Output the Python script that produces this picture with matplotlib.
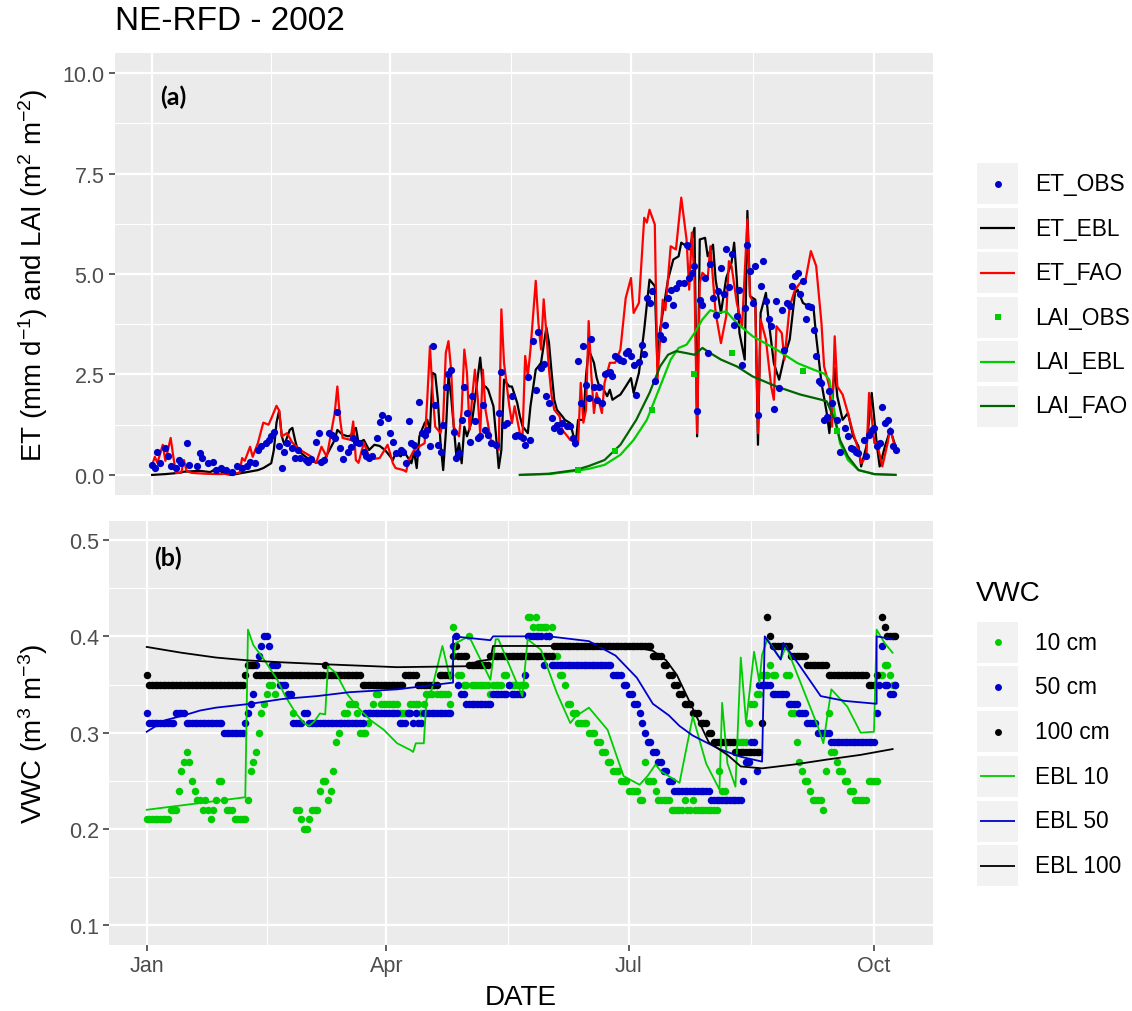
import numpy as np
import matplotlib
matplotlib.use("Agg")
import matplotlib.pyplot as plt
import matplotlib.dates as mdates
from matplotlib.patches import Rectangle

plt.rcParams["font.family"] = ["Liberation Sans", "DejaVu Sans"]
plt.rcParams["mathtext.default"] = "regular"

START = np.datetime64("2002-01-01")
N_DAYS = 282  # Jan 1 .. Oct 9

# ---- panel (a): (day of year - 1, value) ----
et_obs = [(0,0.25),(1,0.17),(2,0.58),(3,0.29),(5,0.67),(6,0.46),(7,0.21),(9,0.17),(10,0.37),(11,0.29),
          (13,0.79),(14,0.25),(17,0.21),(18,0.54),(19,0.42),(21,0.29),(23,0.33),(24,0.13),(26,0.17),(28,0.12),
          (30,0.08),(32,0.21),(34,0.17),(36,0.21),(37,0.33),(39,0.29),(40,0.62),(41,0.71),(43,0.79),(44,0.87),
          (45,0.96),(46,1.08),(48,0.71),(49,0.17),(50,0.58),(51,0.79),(53,0.67),(54,0.42),(55,0.62),(56,0.42),
          (58,0.37),(59,0.33),(60,0.4),(62,0.83),(63,1.04),(64,0.33),(65,0.37),(67,1.04),(68,1.0),(69,0.92),
          (70,1.56),(71,0.67),(72,0.4),(74,0.58),(75,0.7),(76,0.92),(77,0.83),(78,0.8),(80,0.58),(81,0.46),
          (82,0.42),(83,0.46),(85,0.92),(86,1.31),(87,1.5),(89,1.42),(90,1.04),(91,0.83),(92,0.54),(94,0.62),
          (95,0.58),(96,0.29),(97,1.35),(98,0.79),(99,0.75),(100,0.54),(101,1.81),(102,1.04),(103,1.0),(104,1.12),
          (105,0.71),(106,3.2),(107,1.75),(108,0.75),(109,0.58),(110,1.25),(111,2.2),(112,2.5),(113,2.6),(114,1.08),
          (115,0.42),(116,0.54),(117,1.37),(118,2.2),(119,1.54),(120,0.83),(121,1.96),(122,1.33),(123,0.92),(124,0.96),
          (125,1.75),(126,1.12),(127,1.0),(128,0.79),(130,0.75),(131,1.54),(132,2.56),(133,1.23),(134,1.29),(136,1.96),
          (137,0.96),(138,1.0),(139,0.96),(140,0.92),(141,0.75),(142,2.43),(143,0.86),(144,3.33),(145,2.12),(146,3.56),
          (147,2.67),(148,2.75),(149,1.96),(150,1.79),(151,1.42),(152,1.17),(153,1.25),(154,1.1),(155,1.29),(157,1.21),
          (158,1.21),(159,0.92),(160,0.79),(161,2.83),(162,1.78),(163,3.22),(164,2.25),(165,1.92),(166,3.39),(167,2.2),
          (168,1.87),(169,2.2),(170,1.79),(171,2.52),(172,2.54),(173,2.56),(174,2.46),(175,2.96),(176,2.9),(177,2.87),
          (178,2.83),(179,3.04),(180,3.08),(181,2.95),(182,2.74),(183,2.0),(184,2.8),(185,3.24),(186,3.0),(187,4.4),
          (188,4.28),(189,4.57),(190,2.33),(192,3.49),(193,3.37),(194,3.74),(195,4.4),(196,4.61),(197,4.24),(198,4.65),
          (199,4.78),(201,4.78),(202,5.73),(203,4.9),(204,5.03),(205,5.21),(206,1.58),(207,4.36),(208,4.24),(209,4.9),
          (210,3.03),(211,5.24),(212,4.4),(213,3.99),(214,4.57),(215,5.15),(216,4.49),(217,5.61),(218,4.67),(219,5.49),
          (220,3.74),(221,3.95),(222,4.61),(223,2.74),(224,4.16),(225,5.73),(226,5.07),(227,4.28),(228,5.2),(229,1.5),
          (230,4.71),(231,5.32),(232,4.32),(233,3.87),(234,3.7),(235,1.64),(236,4.32),(237,2.16),(238,4.11),(239,3.12),
          (240,4.28),(241,4.2),(242,4.7),(243,4.95),(244,5.03),(245,4.49),(246,4.82),(247,3.88),(248,4.2),(249,4.18),
          (250,3.6),(251,2.95),(252,2.33),(253,2.29),(254,1.37),(255,1.44),(256,2.08),(257,1.79),(259,1.37),(260,0.58),
          (262,1.16),(263,0.96),(264,0.67),(265,0.65),(266,0.58),(267,0.54),(269,0.87),(270,0.46),(271,1.0),(272,1.12),
          (273,1.16),(274,0.72),(275,0.79),(276,1.68),(277,1.3),(278,1.37),(279,1.1),(280,0.71),(281,0.61)]

et_ebl = [(0,0.0),(5,0.02),(10,0.05),(12,0.08),(18,0.1),(22,0.07),(24,0.15),(28,0.02),(30,0.0),(35,0.06),
          (40,0.12),(42,0.17),(45,0.29),(46,0.62),(47,1.3),(48,1.6),(49,0.96),(50,0.75),(52,1.12),(53,1.17),
          (54,0.87),(55,0.62),(58,0.45),(60,0.37),(62,0.3),(65,0.37),(67,0.62),(69,0.87),(70,1.12),(72,1.0),
          (74,0.96),(75,0.98),(77,1.17),(78,0.8),(80,0.87),(82,0.62),(84,0.75),(86,0.72),(88,0.62),(89,0.54),
          (91,0.37),(92,0.54),(94,0.46),(95,0.62),(96,0.5),(98,0.29),(99,0.58),(100,0.17),(101,0.96),(103,1.29),
          (104,1.37),(105,1.08),(106,2.54),(107,2.5),(108,1.87),(109,0.79),(110,0.12),(111,1.04),(112,2.46),(113,1.96),
          (115,0.46),(116,0.79),(117,0.29),(118,1.2),(119,0.96),(121,1.37),(122,1.87),(124,2.92),(125,2.2),(126,2.2),
          (127,2.12),(129,1.71),(130,0.96),(131,0.17),(132,0.62),(133,2.37),(135,2.2),(136,2.2),(138,1.79),(139,1.46),
          (140,1.21),(142,1.04),(143,1.71),(145,2.62),(146,2.7),(147,2.79),(149,3.67),(150,3.29),(151,2.54),(152,1.87),
          (153,1.62),(155,1.46),(156,1.37),(158,1.29),(159,1.04),(160,0.71),(161,1.37),(163,1.37),(164,2.46),(165,3.12),
          (167,2.79),(168,2.42),(169,2.2),(170,2.2),(172,1.96),(173,2.12),(174,1.87),(176,1.96),(177,2.0),(179,2.2),
          (181,2.41),(182,2.04),(184,2.54),(186,3.62),(188,4.86),(190,4.7),(191,2.7),(192,3.62),(195,4.86),(197,5.36),
          (199,5.44),(200,5.78),(202,5.69),(203,5.61),(205,6.15),(206,0.96),(207,5.86),(209,5.9),(210,5.44),(212,5.73),
          (213,4.86),(215,4.03),(217,4.9),(219,5.28),(220,5.78),(221,4.86),(222,3.53),(224,2.87),(225,6.57),(226,4.45),
          (228,4.36),(229,0.75),(230,4.03),(232,4.53),(233,3.87),(235,2.78),(237,2.37),(239,2.95),(241,3.37),(243,4.53),
          (244,4.61),(246,4.28),(248,4.2),(250,4.16),(251,3.45),(253,2.29),(255,1.54),(256,1.04),(258,2.66),(259,1.95),
          (261,1.37),(263,1.54),(265,0.96),(267,0.71),(268,0.21),(270,0.71),(272,2.04),(274,0.71),(275,0.21),(277,0.71),
          (279,1.12),(281,0.71)]

et_fao = [(0,0.25),(1,0.45),(2,0.3),(4,0.75),(5,0.35),(7,0.92),(8,0.45),(9,0.05),(11,0.05),(12,0.37),
          (13,0.1),(15,0.05),(20,0.03),(25,0.02),(30,0.03),(33,0.05),(34,0.42),(35,0.35),(37,0.7),(38,0.45),
          (40,0.8),(42,1.3),(44,1.25),(45,1.4),(47,1.72),(48,1.6),(49,0.96),(51,1.04),(53,0.8),(56,0.62),
          (60,0.46),(62,0.3),(63,0.5),(64,0.7),(66,0.45),(69,1.54),(70,2.2),(71,1.4),(72,0.92),(75,0.87),
          (76,1.33),(77,0.37),(78,0.3),(80,0.8),(82,0.46),(84,0.4),(86,0.42),(89,0.75),(91,0.29),(92,0.17),
          (95,0.12),(96,0.08),(97,0.37),(99,0.62),(101,0.71),(103,0.79),(104,1.9),(105,3.2),(106,2.04),(107,1.2),
          (109,1.04),(110,1.37),(111,3.04),(112,3.33),(113,2.62),(114,1.2),(116,0.96),(117,1.62),(118,3.12),(119,2.54),
          (120,1.12),(121,1.96),(122,2.62),(123,1.96),(124,1.04),(125,2.62),(126,1.62),(128,0.87),(130,0.79),(131,0.62),
          (132,4.12),(133,2.79),(135,1.71),(136,1.29),(137,1.71),(139,1.04),(140,0.96),(141,2.96),(142,2.46),(143,3.12),
          (145,4.83),(146,3.79),(147,3.12),(148,4.37),(149,3.54),(150,2.62),(151,1.96),(152,1.62),(154,1.46),(155,1.12),
          (157,0.96),(158,0.87),(160,0.83),(161,0.79),(162,2.29),(163,1.3),(164,1.62),(165,3.83),(166,2.5),(167,1.54),
          (168,2.04),(170,1.54),(171,2.29),(173,2.79),(175,2.79),(177,3.12),(179,4.4),(181,4.9),(182,4.03),(184,4.28),
          (186,6.4),(187,6.28),(188,6.6),(190,6.23),(191,2.37),(193,4.36),(194,4.1),(196,5.69),(198,5.61),(200,6.9),
          (202,5.86),(203,4.61),(204,6.03),(205,4.86),(206,1.04),(207,4.78),(208,5.03),(210,4.9),(211,5.69),(213,4.03),
          (215,3.28),(217,3.95),(218,5.32),(219,5.2),(221,4.28),(223,3.7),(225,6.36),(226,4.45),(228,4.2),(229,1.04),
          (230,3.87),(232,3.37),(234,2.2),(235,1.87),(236,3.7),(238,3.53),(239,2.87),(241,4.2),(243,4.61),(245,4.78),
          (247,4.86),(249,5.57),(251,5.2),(253,3.78),(254,2.7),(256,2.2),(257,1.2),(258,3.45),(259,2.2),(261,2.0),
          (263,1.54),(265,1.04),(267,0.62),(268,0.29),(270,0.46),(271,2.04),(273,0.79),(274,0.79),(276,0.21),(278,0.79),
          (279,1.16),(281,0.62)]

lai_obs = [(161,0.12),(175,0.6),(189,1.62),(205,2.51),(219,3.03),(246,2.58),(259,1.1)]

lai_ebl = [(139,0.0),(150,0.02),(160,0.1),(165,0.15),(171,0.25),(177,0.5),(182,0.87),(187,1.37),(192,2.2),(196,2.87),
           (199,3.16),(202,3.24),(205,3.53),(208,3.87),(211,4.1),(214,4.03),(217,4.07),(221,3.78),(227,3.45),(236,3.12),
           (244,2.78),(250,2.62),(254,2.52),(256,2.37),(258,1.54),(260,0.79),(263,0.37),(267,0.12),(273,0.02),(281,0.0)]

lai_fao = [(139,0.0),(150,0.03),(160,0.12),(165,0.22),(171,0.37),(177,0.75),(183,1.37),(188,2.04),(192,2.7),(195,2.99),
           (198,3.08),(202,3.03),(205,2.99),(208,3.16),(211,3.03),(215,2.87),(221,2.7),(227,2.45),(236,2.2),(245,2.0),
           (253,1.87),(255,1.83),(258,1.37),(260,0.87),(263,0.46),(267,0.12),(273,0.02),(281,0.0)]

# ---- panel (b): daily observed VWC in hundredths (None = missing), day 0 = Jan 1 ----
vwc_10cm = [21,21,21,21,21,21,21,21,21,22,
            22,22,24,26,27,28,27,25,24,23,
            23,22,23,22,21,22,23,25,25,23,
            22,22,22,21,21,21,21,21,23,26,
            27,28,30,32,33,34,35,35,34,None,
            None,None,None,None,None,32,22,22,21,20,
            20,21,22,22,22,24,25,25,23,24,
            26,29,30,31,32,32,33,33,33,32,
            30,30,30,31,32,33,34,34,33,33,
            33,33,33,33,33,32,32,32,32,33,
            33,33,33,32,33,34,34,34,35,34,
            34,34,34,34,33,41,40,36,36,35,
            35,40,35,35,35,35,35,35,35,34,
            35,35,35,35,36,36,35,35,35,35,
            35,35,35,42,42,41,42,41,41,41,
            41,40,41,38,38,36,36,35,33,33,
            32,32,31,31,31,31,30,30,30,29,
            29,28,28,27,27,26,26,26,25,25,
            25,24,24,24,24,23,23,27,25,25,
            25,24,23,23,23,23,23,22,22,22,
            22,22,23,22,22,23,22,22,22,22,
            22,22,22,22,22,26,24,24,None,None,
            None,29,29,29,29,29,31,33,33,34,
            34,36,36,36,37,36,36,None,None,None,
            36,36,32,32,29,27,26,25,25,24,
            23,23,23,23,22,26,32,28,28,27,
            26,26,25,25,24,24,23,23,23,23,
            23,25,25,25,25,36,36,37,37,36,
            35,35]

vwc_50cm = [32,31,31,31,31,31,31,31,31,31,
            31,32,32,32,32,31,31,31,31,31,
            31,31,31,31,31,31,31,31,31,30,
            30,30,30,30,30,30,30,31,32,33,
            34,37,38,39,40,40,39,37,37,37,
            35,35,35,34,34,31,31,31,31,32,
            32,31,31,31,31,31,31,31,31,31,
            31,31,31,31,31,31,31,31,31,31,
            31,31,32,32,32,32,32,32,32,32,
            32,32,32,32,32,31,31,31,32,32,
            31,32,31,31,32,32,32,32,32,32,
            32,32,32,32,32,39,40,35,34,34,
            33,33,33,33,33,33,33,33,33,33,
            34,34,34,34,34,34,35,34,34,34,
            34,34,36,40,40,40,40,40,40,37,
            40,40,37,37,37,37,37,37,37,37,
            37,37,37,37,37,37,37,37,37,37,
            37,37,37,37,37,36,36,36,36,35,
            35,34,34,33,33,32,31,30,29,29,
            28,28,27,27,26,26,25,25,24,24,
            24,24,24,24,24,24,24,24,24,24,
            24,24,23,23,23,23,23,23,23,23,
            23,23,23,23,25,27,27,29,29,26,
            35,35,35,35,35,34,34,34,34,34,
            34,33,33,33,33,32,32,32,31,31,
            31,31,30,30,30,30,30,29,29,29,
            29,29,29,29,29,29,29,29,29,29,
            29,29,29,29,32,35,39,35,35,34,
            34,35]

vwc_100cm = [36,35,35,35,35,35,35,35,35,35,
             35,35,35,35,35,35,35,35,35,35,
             35,35,35,35,35,35,35,35,35,35,
             35,35,35,35,35,35,35,36,37,37,
             37,36,36,36,36,36,36,36,36,36,
             36,36,36,36,36,36,36,36,36,36,
             36,36,36,36,36,36,36,37,36,36,
             36,36,36,36,36,36,36,36,36,36,
             36,35,35,35,35,35,35,35,35,35,
             35,35,35,35,35,35,35,36,36,36,
             36,36,35,35,35,35,35,35,35,35,
             36,36,36,36,36,38,39,38,38,38,
             38,37,37,37,37,37,37,37,37,38,
             38,38,38,38,38,38,38,38,38,38,
             38,38,38,38,38,38,38,38,38,38,
             38,38,38,39,39,39,39,39,39,39,
             39,39,39,39,39,39,39,39,39,39,
             39,39,39,39,39,39,39,39,39,39,
             39,39,39,39,39,39,39,39,39,39,
             38,38,38,38,37,37,36,36,35,35,
             34,34,33,33,33,32,32,32,31,31,
             31,30,30,29,29,29,29,29,29,29,
             29,28,28,28,28,28,28,28,28,28,
             28,31,None,42,40,39,39,39,39,39,
             39,39,38,38,38,38,38,38,37,37,
             37,37,37,37,37,37,36,36,36,36,
             36,36,36,36,36,36,36,36,36,36,
             36,35,35,35,36,None,42,41,40,40,
             40,40]

ebl_10 = [(0,0.22),(37,0.233),(38,0.407),(40,0.391),(44,0.376),(49,0.355),(52,0.338),(56,0.32),(59,0.31),(61,0.307),
          (63,0.312),(65,0.32),(67,0.319),(68,0.369),(71,0.362),(75,0.341),(79,0.327),(84,0.313),(89,0.303),(94,0.289),
          (99,0.282),(100,0.28),(101,0.289),(104,0.289),(105,0.334),(107,0.345),(111,0.39),(114,0.355),(116,0.393),(121,0.40),
          (129,0.355),(131,0.397),(132,0.397),(141,0.338),(143,0.397),(148,0.386),(154,0.341),(159,0.31),(161,0.317),(166,0.326),
          (173,0.303),(179,0.255),(185,0.246),(188,0.255),(191,0.267),(193,0.26),(200,0.248),(205,0.317),(210,0.268),(215,0.241),
          (216,0.331),(218,0.268),(221,0.244),(223,0.378),(225,0.31),(228,0.384),(230,0.352),(231,0.381),(233,0.397),(238,0.376),
          (240,0.39),(245,0.355),(252,0.306),(254,0.289),(257,0.345),(263,0.327),(268,0.30),(273,0.301),(274,0.407),(277,0.393),
          (280,0.383)]

ebl_50 = [(0,0.301),(7,0.313),(14,0.318),(20,0.323),(26,0.326),(39,0.33),(51,0.335),(64,0.338),(76,0.342),(94,0.345),
          (115,0.352),(115,0.40),(129,0.396),(130,0.40),(151,0.40),(166,0.395),(176,0.38),(184,0.357),(190,0.33),(196,0.318),
          (200,0.307),(205,0.297),(215,0.283),(223,0.275),(231,0.27),(232,0.40),(238,0.376),(239,0.393),(245,0.37),(253,0.338),
          (262,0.333),(274,0.33),(274,0.40),(280,0.397)]

ebl_100 = [(0,0.389),(13,0.383),(26,0.378),(38,0.375),(51,0.373),(67,0.371),(94,0.368),(121,0.369),(124,0.374),(129,0.376),
           (130,0.39),(173,0.39),(183,0.389),(190,0.385),(195,0.375),(199,0.36),(205,0.325),(211,0.29),(218,0.277),(223,0.265),
           (231,0.263),(243,0.267),(255,0.272),(268,0.277),(280,0.283)]

BLUE = "#0000CD"
GREEN = "#00CD00"
DKGREEN = "#006400"


def to_dates(days):
    return START + np.asarray(days, dtype=int).astype("timedelta64[D]")


def unpack(pairs):
    d, v = zip(*pairs)
    return to_dates(d), np.asarray(v, dtype=float)


fig = plt.figure(figsize=(11.32, 10.12), dpi=100)
ax_a = fig.add_axes([115 / 1132, 1 - 496 / 1012, 817.7 / 1132, 442 / 1012])
ax_b = fig.add_axes([109.3 / 1132, 1 - 945.7 / 1012, 823.4 / 1132, 424 / 1012])

t0 = mdates.date2num(START)
span = N_DAYS - 1
major = [np.datetime64(f"2002-{m:02d}-01") for m in (1, 4, 7, 10)]
major_num = mdates.date2num(major)
minor_num = (major_num[:-1] + major_num[1:]) / 2


def style(ax, ylim, yticks, ylabels, yminor, show_x):
    ax.set_facecolor("#EBEBEB")
    for s in ax.spines.values():
        s.set_visible(False)
    ax.set_xlim(t0 - 0.05 * span, t0 + 1.05 * span)
    ax.set_ylim(*ylim)
    ax.set_yticks(yticks)
    ax.set_yticklabels(ylabels)
    ax.set_yticks(yminor, minor=True)
    ax.set_xticks(major_num)
    ax.set_xticks(minor_num, minor=True)
    ax.set_xticklabels(["Jan", "Apr", "Jul", "Oct"] if show_x else [])
    ax.grid(which="major", color="white", lw=1.6)
    ax.grid(which="minor", color="white", lw=0.8)
    ax.set_axisbelow(True)
    ax.tick_params(which="major", length=4.5, width=1.1, color="#333333",
                   labelcolor="#4D4D4D", labelsize=15.5, pad=3)
    ax.tick_params(which="minor", length=0)
    if not show_x:
        ax.tick_params(axis="x", which="major", length=0)


# panel (a)
x, y = unpack(et_ebl)
ax_a.plot(x, y, color="black", lw=1.6)
x, y = unpack(et_fao)
ax_a.plot(x, y, color="red", lw=1.6)
x, y = unpack(lai_ebl)
ax_a.plot(x, y, color=GREEN, lw=1.6)
x, y = unpack(lai_fao)
ax_a.plot(x, y, color=DKGREEN, lw=1.6)
x, y = unpack(lai_obs)
ax_a.plot(x, y, ls="none", marker="s", ms=4.6, color=GREEN, mew=0)
x, y = unpack(et_obs)
ax_a.plot(x, y, ls="none", marker="o", ms=5.2, color=BLUE, mew=0)
style(ax_a, (-0.5, 10.5), [0, 2.5, 5, 7.5, 10], ["0.0", "2.5", "5.0", "7.5", "10.0"],
      [1.25, 3.75, 6.25, 8.75], False)
ax_a.text(t0 + 8, 9.43, "(a)", fontsize=18, fontweight="bold", family="Lato",
          ha="center", va="center")

# panel (b)
days = to_dates(np.arange(N_DAYS))
for obs, col in ((vwc_10cm, GREEN), (vwc_50cm, BLUE), (vwc_100cm, "black")):
    ax_b.plot(days, np.array(obs, dtype=float) / 100, ls="none", marker="o",
              ms=5.4, color=col, mew=0)
for line, col in ((ebl_10, GREEN), (ebl_50, BLUE), (ebl_100, "black")):
    x, y = unpack(line)
    ax_b.plot(x, y, color=col, lw=1.3)
style(ax_b, (0.08, 0.52), [0.1, 0.2, 0.3, 0.4, 0.5], ["0.1", "0.2", "0.3", "0.4", "0.5"],
      [0.15, 0.25, 0.35, 0.45], True)
ax_b.text(t0 + 8, 0.482, "(b)", fontsize=18, fontweight="bold", family="Lato",
          ha="center", va="center")

# titles
fig.text(115 / 1132, 1 - 22 / 1012, "NE-RFD - 2002", fontsize=24, ha="left", va="center")
fig.text(521 / 1132, 1 - 998 / 1012, "DATE", fontsize=20, ha="center", va="center")
fig.text(33 / 1132, 1 - 275 / 1012, "ET (mm d$^{-1}$) and LAI (m$^{2}$ m$^{-2}$)",
         fontsize=20, rotation=90, ha="center", va="center")
fig.text(33 / 1132, 1 - 733.7 / 1012, "VWC (m$^{3}$ m$^{-3}$)",
         fontsize=20, rotation=90, ha="center", va="center")

# legends drawn in pixel space
ov = fig.add_axes([0, 0, 1, 1])
ov.set_xlim(0, 1132)
ov.set_ylim(1012, 0)
ov.axis("off")


def key(top, label, color, marker=None, lw=1.5, ms=4.7):
    ov.add_patch(Rectangle((976, top), 43, 43, facecolor="#F2F2F2", edgecolor="white", lw=1.5))
    cy = top + 21.5
    if marker:
        ov.plot([997.5], [cy], ls="none", marker=marker, ms=ms, color=color, mew=0)
    else:
        ov.plot([980, 1015], [cy, cy], color=color, lw=lw, solid_capstyle="butt")
    ov.text(1035, cy, label, fontsize=16.4, ha="left", va="center")


leg_a = [("ET_OBS", BLUE, "o"), ("ET_EBL", "black", None), ("ET_FAO", "red", None),
         ("LAI_OBS", GREEN, "s"), ("LAI_EBL", GREEN, None), ("LAI_FAO", DKGREEN, None)]
for i, (lab, col, mk) in enumerate(leg_a):
    key(163 + i * 44.5, lab, col, mk, lw=1.6, ms=5.0 if mk == "o" else 4.6)

ov.text(976, 594, "VWC", fontsize=20, ha="left", va="center")
leg_b = [("10 cm", GREEN, "o"), ("50 cm", BLUE, "o"), ("100 cm", "black", "o"),
         ("EBL 10", GREEN, None), ("EBL 50", BLUE, None), ("EBL 100", "black", None)]
for i, (lab, col, mk) in enumerate(leg_b):
    key(621.7 + i * 44.7, lab, col, mk, lw=1.3, ms=5.0)

fig.savefig("out.png", dpi=100)
